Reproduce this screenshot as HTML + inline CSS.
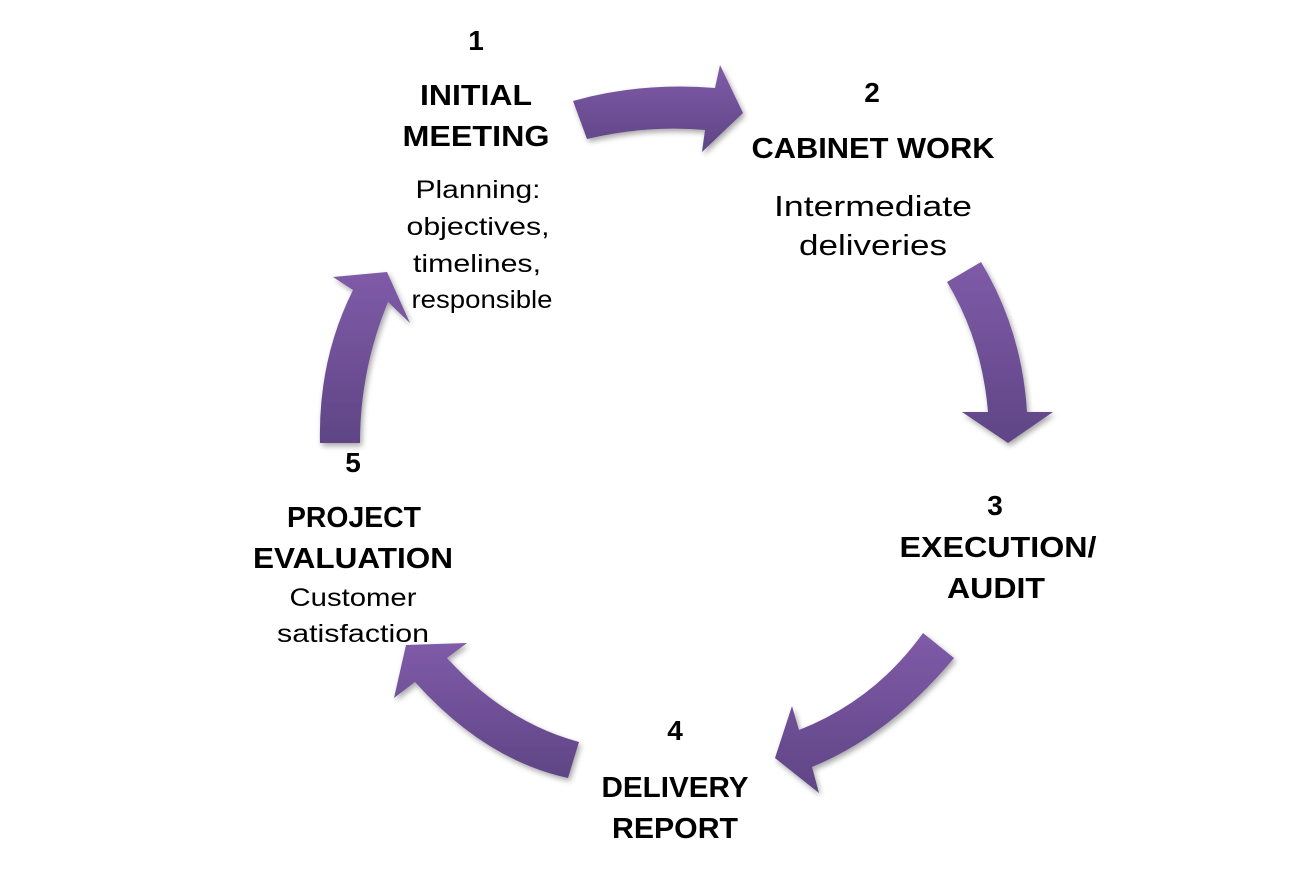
<!DOCTYPE html>
<html><head><meta charset="utf-8"><style>
html,body{margin:0;padding:0;background:#fff;}
svg{display:block;}
text{font-family:"Liberation Sans",sans-serif;fill:#000;text-anchor:middle;}
.n{font-weight:bold;font-size:28px;}
.h{font-weight:bold;font-size:29px;}
.s{font-size:25px;}
.m{font-size:29px;}
</style></head><body>
<svg width="1315" height="882" viewBox="0 0 1315 882" xmlns="http://www.w3.org/2000/svg">
<defs>
<linearGradient id="g" x1="0" y1="0" x2="0" y2="1">
<stop offset="0" stop-color="#7f5ba8"/><stop offset="1" stop-color="#5f4585"/>
</linearGradient>
<filter id="sh" x="-20%" y="-20%" width="140%" height="140%">
<feGaussianBlur in="SourceAlpha" stdDeviation="3"/><feOffset dx="2" dy="3"/>
<feComponentTransfer><feFuncA type="linear" slope="0.35"/></feComponentTransfer>
<feMerge><feMergeNode/><feMergeNode in="SourceGraphic"/></feMerge>
</filter>
</defs>
<g fill="url(#g)" filter="url(#sh)">
<path d="M573,101 Q640,82 715,88 L720,65 L743,113 L702,152 L705,130 Q645,125 587,139 Z"/>
<path d="M947,282 L981,262 Q1022,330 1027,412 L1053,412 L1008,443 L962,412 L988,412 Q982,340 947,282 Z"/>
<path d="M923,633 L954,658 Q890,735 812,767 L819,793 L775,758 L792,706 L799,730 Q875,700 923,633 Z"/>
<path d="M579,742 L568,778 Q485,760 415,682 L394,698 L406,645 L467,643 L447,658 Q505,722 579,742 Z"/>
<path d="M320,443 Q318,360 353,290 L333,277 L387,272 L410,323 L388,302 Q360,370 360,443 Z"/>
</g>
<g>
<text class="n" x="476" y="50">1</text>
<text class="h" x="476" y="105" textLength="112" lengthAdjust="spacingAndGlyphs">INITIAL</text>
<text class="h" x="476" y="146" textLength="147" lengthAdjust="spacingAndGlyphs">MEETING</text>
<text class="s" x="478" y="198" textLength="125" lengthAdjust="spacingAndGlyphs">Planning:</text>
<text class="s" x="478" y="235" textLength="143" lengthAdjust="spacingAndGlyphs">objectives,</text>
<text class="s" x="477" y="272" textLength="128" lengthAdjust="spacingAndGlyphs">timelines,</text>
<text class="s" x="482" y="308" textLength="141" lengthAdjust="spacingAndGlyphs">responsible</text>

<text class="n" x="872" y="102">2</text>
<text class="h" x="873" y="158" textLength="243" lengthAdjust="spacingAndGlyphs">CABINET WORK</text>
<text class="m" x="873" y="216" textLength="198" lengthAdjust="spacingAndGlyphs">Intermediate</text>
<text class="m" x="873" y="255" textLength="148" lengthAdjust="spacingAndGlyphs">deliveries</text>

<text class="n" x="995" y="515">3</text>
<text class="h" x="998" y="557" textLength="197" lengthAdjust="spacingAndGlyphs">EXECUTION/</text>
<text class="h" x="996" y="598" textLength="98" lengthAdjust="spacingAndGlyphs">AUDIT</text>

<text class="n" x="675" y="740">4</text>
<text class="h" x="675" y="797" textLength="147" lengthAdjust="spacingAndGlyphs">DELIVERY</text>
<text class="h" x="675" y="838" textLength="126" lengthAdjust="spacingAndGlyphs">REPORT</text>

<text class="n" x="353" y="472">5</text>
<text class="h" x="354" y="527" textLength="134" lengthAdjust="spacingAndGlyphs">PROJECT</text>
<text class="h" x="353" y="568" textLength="200" lengthAdjust="spacingAndGlyphs">EVALUATION</text>
<text class="s" x="353" y="606" textLength="127" lengthAdjust="spacingAndGlyphs">Customer</text>
<text class="s" x="353" y="642" textLength="152" lengthAdjust="spacingAndGlyphs">satisfaction</text>
</g>
</svg>
</body></html>
